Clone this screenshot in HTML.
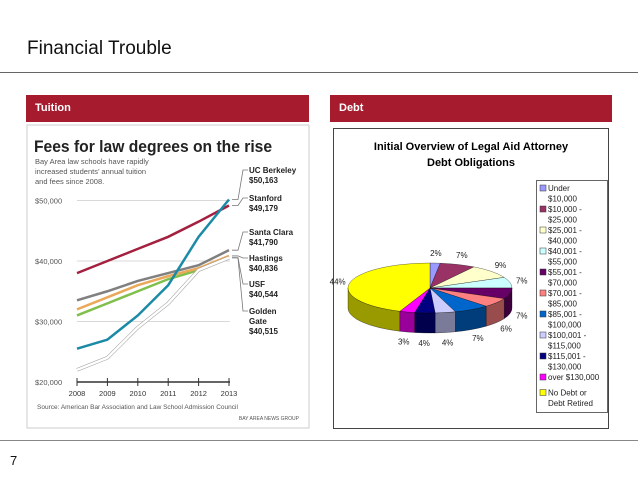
<!DOCTYPE html>
<html><head><meta charset="utf-8"><style>
body{margin:0;width:638px;height:479px;background:#fff;position:relative;overflow:hidden;font-family:"Liberation Sans",sans-serif}
.abs{position:absolute}
.bar{background:#a61c2e;color:#fff;font-weight:bold;font-size:11px;line-height:27px;padding-left:9px;box-sizing:border-box}
</style></head><body>
<div class="abs" style="left:27px;top:38px;font-size:19px;color:#111">Financial Trouble</div>
<div class="abs" style="left:0;top:72px;width:638px;height:1px;background:#666"></div>
<div class="abs bar" style="left:26px;top:95px;width:283px;height:27px">Tuition</div>
<div class="abs bar" style="left:330px;top:95px;width:282px;height:27px">Debt</div>
<div class="abs" style="left:0;top:440px;width:638px;height:1px;background:#888"></div>
<div class="abs" style="left:10px;top:453px;font-size:13px;color:#111">7</div>

<svg class="abs" style="left:0;top:0" width="638" height="479" id="svg">
<rect x="27" y="125" width="282" height="303" fill="#fff" stroke="#ccc"/>
<text x="34" y="152" font-size="17" font-weight="bold" fill="#222" transform="scale(0.92,1)" style="transform-origin:34px 152px">Fees for law degrees on the rise</text>
<text font-size="7.5" fill="#555"><tspan x="35" y="164">Bay Area law schools have rapidly</tspan><tspan x="35" y="174">increased students’ annual tuition</tspan><tspan x="35" y="184">and fees since 2008.</tspan></text>
<g id="lineChart"></g>
<text x="37" y="409" font-size="6.5" fill="#555">Source: American Bar Association and Law School Admission Council</text>
<text x="299" y="420" font-size="5" fill="#555" text-anchor="end">BAY AREA NEWS GROUP</text>

<rect x="333.5" y="128.5" width="275" height="300" fill="#fff" stroke="#444"/>
<text x="471" y="150" font-size="11" font-weight="bold" text-anchor="middle">Initial Overview of Legal Aid Attorney</text>
<text x="471" y="166" font-size="11" font-weight="bold" text-anchor="middle">Debt Obligations</text>
<g id="pieChart"></g>
<rect x="536.5" y="180.5" width="71" height="232" fill="#fff" stroke="#666"/>
<g id="legend"></g>
</svg>
<script>
const years=[2008,2009,2010,2011,2012,2013];
const yTicks=[20000,30000,40000,50000];
const schools=["UC Berkeley","Stanford","Santa Clara","Hastings","USF","Golden Gate"];
const berkeley=[25500,27000,31000,36000,44000,50163];
const stanford=[38000,40000,42000,44000,46500,49179];
const santaClara=[33500,35000,36700,38000,39300,41790];
const hastings=[32000,34000,36000,37500,38800,40836];
const usf=[22000,24000,29000,33000,38500,40544];
const goldenGate=[31000,33000,35000,37000,38500,40515];
const endLabels=["$50,163","$49,179","$41,790","$40,836","$40,544","$40,515"];

const pieCats=["Under $10,000","$10,000 - $25,000","$25,001 - $40,000","$40,001 - $55,000","$55,001 - $70,000","$70,001 - $85,000","$85,001 - $100,000","$100,001 - $115,000","$115,001 - $130,000","over $130,000","No Debt or Debt Retired"];
const pieVals=[2,7,9,7,7,6,7,4,4,3,44];
const pieColors=["#9999ff","#993366","#ffffcc","#ccffff","#660066","#ff8080","#0066cc","#ccccff","#000080","#ff00ff","#ffff00"];

const NS="http://www.w3.org/2000/svg";
function mk(t,a,p){const e=document.createElementNS(NS,t);for(const k in a)e.setAttribute(k,a[k]);p.appendChild(e);return e;}
// line chart
const lc=document.getElementById('lineChart');
const xS=y=>77+(y-2008)*30.4;
const yS=v=>382-(v-20000)*0.00605;
yTicks.forEach(t=>{
  const g=mk('line',{x1:77,x2:230,y1:yS(t),y2:yS(t),stroke:t==20000?'#333':'#ccc','stroke-width':t==20000?1.5:0.8},lc);
  
  
  const tx=mk('text',{x:35,y:yS(t)+3,'font-size':7.5,fill:'#555'},lc);tx.textContent='$'+t.toLocaleString('en-US');
  
  
});
years.forEach(y=>{
  const l=mk('line',{x1:xS(y),x2:xS(y),y1:378,y2:386,stroke:'#333'},lc);
  
  
  const t=mk('text',{x:xS(y),y:396,'font-size':7.5,fill:'#333','text-anchor':'middle'},lc);t.textContent=y;
  
  
});
const series=[[stanford,'#a3203e'],[santaClara,'#808080'],[goldenGate,'#7fbf4a'],[hastings,'#eaa95a'],[usf,'#fff'],[berkeley,'#1a8aa6']];
series.forEach(([d,c])=>{
  const pts=d.map((v,i)=>xS(years[i])+','+yS(v)).join(' ');
  if(c=='#fff'){const o=mk('polyline',{points:pts,fill:'none',stroke:'#999','stroke-width':3.5},lc);}
  const p=mk('polyline',{points:pts,fill:'none',stroke:c,'stroke-width':2.5},lc);
  
  
});
const labY=[173,201,235,261,287,314];
const data=[berkeley,stanford,santaClara,hastings,usf,goldenGate];
schools.forEach((s,i)=>{
  const ey=yS(data[i][5]);
  const pl=mk('polyline',{points:`232,${ey} 238,${ey} 243,${labY[i]-3} 248,${labY[i]-3}`,fill:'none',stroke:'#777','stroke-width':0.8},lc);
  
  
  const t=mk('text',{'font-size':8,'font-weight':'bold',fill:'#222'},lc);
  const parts=s=="Golden Gate"?["Golden","Gate",endLabels[i]]:[s,endLabels[i]];
  parts.forEach((p,j)=>{const ts=mk('tspan',{x:249,y:labY[i]+j*10},t);ts.textContent=p;});
  
  
});
// pie
const pc=document.getElementById('pieChart');
const cx=430,cy=288,rx=82,ry=25,dep=20;
const total=pieVals.reduce((a,b)=>a+b,0);
function dark(h){const n=parseInt(h.slice(1),16);const r=(n>>16)*0.6|0,g=((n>>8)&255)*0.6|0,b=(n&255)*0.6|0;return `rgb(${r},${g},${b})`;}
const P=(a,dy=0)=>[cx+rx*Math.cos(a),cy+ry*Math.sin(a)+dy];
let a=-Math.PI/2;const sl=[];
pieVals.forEach((v,i)=>{const a2=a+v/total*2*Math.PI;sl.push([a,a2]);a=a2;});
// sides
sl.forEach(([a1,a2],i)=>{
  for(let k=-1;k<=1;k++){
    const s=Math.max(a1,k*2*Math.PI),e=Math.min(a2,k*2*Math.PI+Math.PI);
    if(e<=s)continue;
    const p1=P(s),p2=P(e);
    const d=`M${p1} A${rx},${ry} 0 0 1 ${p2} L${p2[0]},${p2[1]+dep} A${rx},${ry} 0 0 0 ${p1[0]},${p1[1]+dep} Z`;
    const p=mk('path',{d,fill:dark(pieColors[i]),stroke:'#000','stroke-width':0.3},pc);
    
    
  }
});
sl.forEach(([a1,a2],i)=>{
  const p1=P(a1),p2=P(a2);const large=(a2-a1)>Math.PI?1:0;
  const p=mk('path',{d:`M${cx},${cy} L${p1} A${rx},${ry} 0 ${large} 1 ${p2} Z`,fill:pieColors[i],stroke:'#000','stroke-width':0.3},pc);
  
  
  const m=(a1+a2)/2;let lx=cx+(rx+12)*Math.cos(m),ly=cy+(ry+10)*Math.sin(m)+3;
  if(Math.sin(m)>0)ly+=dep;
  const t=mk('text',{x:lx,y:ly,'font-size':8,'text-anchor':'middle',fill:'#222'},pc);
  t.textContent=Math.round(pieVals[i]/total*100)+'%';
  
  
});
// legend
const lg=document.getElementById('legend');
let ly=184;
pieCats.forEach((c,i)=>{
  const r=mk('rect',{x:540,y:ly+1,width:6,height:6,fill:pieColors[i],stroke:'#333','stroke-width':0.5},lg);
  
  
  let lines;
  if(i==0)lines=["Under","$10,000"];
  else if(i==9)lines=[c];
  else if(i==10){ly+=5;r.setAttribute('y',ly+1);lines=["No Debt or","Debt Retired"];}
  else{const k=c.indexOf(' - ');lines=[c.slice(0,k+2),c.slice(k+3)];}
  const t=mk('text',{'font-size':8,fill:'#222'},lg);
  lines.forEach((l,j)=>{const ts=mk('tspan',{x:548,y:ly+7+j*10.5},t);ts.textContent=l;});
  
  
  ly+=lines.length*10.5;
});
</script>
</body></html>
